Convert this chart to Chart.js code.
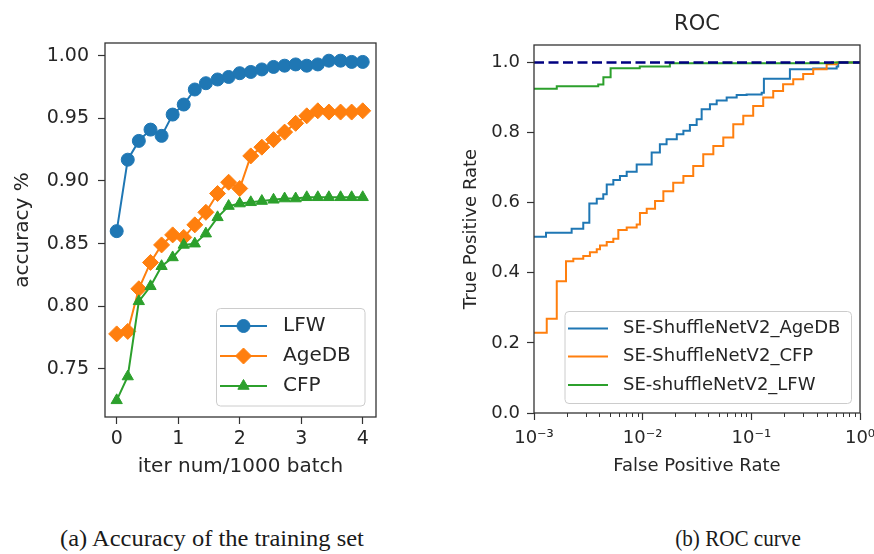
<!DOCTYPE html>
<html><head><meta charset="utf-8">
<script src="https://cdn.jsdelivr.net/npm/chart.js@4.4.0/dist/chart.umd.min.js"></script>
<style>
html,body{margin:0;padding:0;background:#fff;}
#wrap{position:relative;width:874px;height:554px;overflow:hidden;background:#fff;}
#c1{position:absolute;left:0;top:0;}
#c2{position:absolute;left:440px;top:0;}
.cap{position:absolute;top:526px;line-height:25px;font-family:"Liberation Serif","Times New Roman",serif;font-size:24px;color:#1a1a1a;white-space:nowrap;}
#capA{transform:translateX(-50%) scaleX(1.02);}
#capB{transform:translateX(-50%) scaleX(0.88);}
</style></head><body>
<div id="wrap">
<canvas id="c1" width="420" height="500"></canvas>
<canvas id="c2" width="434" height="500"></canvas>
<div class="cap" id="capA" style="left:212px">(a) Accuracy of the training set</div>
<div class="cap" id="capB" style="left:738px">(b) ROC curve</div>
</div>
<script>
// ---------- data: (a) accuracy of the training set ----------
const iterX = [0,0.18,0.36,0.55,0.73,0.91,1.09,1.27,1.45,1.64,1.82,2.0,2.18,2.36,2.55,2.73,2.91,3.09,3.27,3.45,3.64,3.82,4.0];
const lfwAcc = [0.860,0.917,0.932,0.941,0.936,0.953,0.961,0.973,0.978,0.981,0.983,0.986,0.987,0.989,0.991,0.992,0.993,0.992,0.993,0.996,0.996,0.995,0.995];
const agedbAcc = [0.778,0.780,0.814,0.835,0.849,0.857,0.855,0.865,0.875,0.890,0.899,0.894,0.920,0.927,0.933,0.939,0.946,0.952,0.956,0.955,0.955,0.955,0.956];
const cfpAcc = [0.725,0.744,0.804,0.816,0.832,0.839,0.849,0.850,0.858,0.871,0.880,0.882,0.883,0.884,0.885,0.886,0.886,0.887,0.887,0.887,0.887,0.887,0.887];
const accSeriesNames = ['LFW','AgeDB','CFP'];
const accXTicks = [0,1,2,3,4];
const accYTicks = [0.75,0.80,0.85,0.90,0.95,1.00];

// ---------- data: (b) ROC curve ----------
const ageFpr = [0.001,0.00129,0.00222,0.00284,0.00323,0.00378,0.00434,0.00467,0.00537,0.00618,0.00713,0.00881,0.0121,0.0144,0.0166,0.0206,0.0237,0.0272,0.0314,0.0349,0.0416,0.048,0.0593,0.0733,0.0905,0.1245,0.1305,0.2265,0.371,0.61,0.63,1.0];
const ageTpr = [0.503,0.514,0.526,0.543,0.598,0.611,0.624,0.652,0.665,0.676,0.688,0.709,0.743,0.767,0.781,0.795,0.805,0.822,0.838,0.867,0.881,0.892,0.900,0.907,0.909,0.914,0.954,0.981,0.983,0.989,1.0,1.0];
const cfpFpr = [0.001,0.00131,0.00162,0.00197,0.0023,0.00284,0.00327,0.00378,0.00405,0.00467,0.00537,0.00597,0.00713,0.00881,0.00944,0.0109,0.013,0.0155,0.0191,0.0237,0.0292,0.0361,0.0447,0.0552,0.0682,0.0843,0.104,0.1286,0.159,0.196,0.243,0.30,0.371,0.493,0.61,1.0];
const cfpTpr = [0.229,0.269,0.376,0.433,0.440,0.448,0.459,0.467,0.478,0.488,0.497,0.522,0.529,0.538,0.571,0.583,0.605,0.633,0.657,0.676,0.705,0.738,0.762,0.786,0.824,0.848,0.876,0.900,0.919,0.938,0.952,0.967,0.981,0.995,1.0,1.0];
const lfwFpr = [0.001,0.00162,0.0039,0.00435,0.00507,0.0094,0.0178,0.55,1.0];
const lfwTpr = [0.925,0.932,0.937,0.958,0.984,0.989,0.998,1.0,1.0];
const refFpr = [0.001,1.0];
const refTpr = [1.0,1.0];
const rocSeriesNames = ['SE-ShuffleNetV2_AgeDB','SE-ShuffleNetV2_CFP','SE-shuffleNetV2_LFW'];
const rocXMajor = [0.001,0.01,0.1,1];
const rocXTickLabels = ['10\u207B\u00B3','10\u207B\u00B2','10\u207B\u00B9','10\u2070'];
const rocYTicks = [0.0,0.2,0.4,0.6,0.8,1.0];

// ---------- styling ----------
const FONT = '"DejaVu Sans", sans-serif';
const TXT = '#262626';
const FRAME = '#333333';
const C_BLUE = '#1f77b4', C_ORANGE = '#ff7f0e', C_GREEN = '#2ca02c', C_NAVY = '#000080';

function zip(xs, ys){ return xs.map((x,i)=>({x:x, y:ys[i]})); }
function isDecade(v){ const l = Math.log10(v); return Math.abs(l - Math.round(l)) < 1e-6; }

function drawMarker(ctx, style, r, x, y, color){
  ctx.save();
  ctx.fillStyle = color; ctx.strokeStyle = color; ctx.lineWidth = 1;
  ctx.beginPath();
  if (style === 'circle') ctx.arc(x, y, r, 0, Math.PI*2);
  else if (style === 'rectRot') { ctx.moveTo(x-r,y); ctx.lineTo(x,y-r); ctx.lineTo(x+r,y); ctx.lineTo(x,y+r); ctx.closePath(); }
  else if (style === 'triangle') { const a = 2*Math.PI/3; ctx.moveTo(x, y-r); ctx.lineTo(x+Math.sin(a)*r, y-Math.cos(a)*r); ctx.lineTo(x+Math.sin(2*a)*r, y-Math.cos(2*a)*r); ctx.closePath(); }
  ctx.fill(); ctx.stroke();
  ctx.restore();
}

const mplDecor = {
  id: 'mplDecor',
  afterDraw(chart, args, opts){
    const ctx = chart.ctx, a = chart.chartArea;
    ctx.save();
    if (opts.minorTicks){
      const s = chart.scales.x;
      ctx.strokeStyle = FRAME; ctx.lineWidth = 1;
      s.ticks.forEach(t => {
        if (!isDecade(t.value)){
          const px = Math.round(s.getPixelForValue(t.value)) + 0.5;
          ctx.beginPath(); ctx.moveTo(px, a.bottom); ctx.lineTo(px, a.bottom + opts.minorTicks); ctx.stroke();
        }
      });
    }
    ctx.strokeStyle = FRAME; ctx.lineWidth = 1.3;
    ctx.strokeRect(a.left, a.top, a.right - a.left, a.bottom - a.top);
    const L = opts.legend;
    if (L){
      const rr = 4;
      ctx.beginPath();
      ctx.moveTo(L.x + rr, L.y);
      ctx.arcTo(L.x + L.w, L.y, L.x + L.w, L.y + L.h, rr);
      ctx.arcTo(L.x + L.w, L.y + L.h, L.x, L.y + L.h, rr);
      ctx.arcTo(L.x, L.y + L.h, L.x, L.y, rr);
      ctx.arcTo(L.x, L.y, L.x + L.w, L.y, rr);
      ctx.closePath();
      ctx.fillStyle = 'rgba(255,255,255,0.8)'; ctx.fill();
      ctx.strokeStyle = '#cccccc'; ctx.lineWidth = 1; ctx.stroke();
      const ds = chart.data.datasets.filter(d => d.label);
      ds.forEach((d, i) => {
        const y = L.rows[i];
        ctx.strokeStyle = d.borderColor; ctx.lineWidth = d.borderWidth;
        ctx.beginPath(); ctx.moveTo(L.x0, y); ctx.lineTo(L.x1, y); ctx.stroke();
        if (d.pointRadius > 0) drawMarker(ctx, d.pointStyle, d.pointRadius, (L.x0 + L.x1)/2, y, d.borderColor);
        ctx.fillStyle = TXT; ctx.font = L.font; ctx.textBaseline = 'middle'; ctx.textAlign = 'left';
        ctx.fillText(d.label, L.tx, y);
      });
    }
    ctx.restore();
  }
};

function fixWidth(w){ return s => { s.width = w; s.paddingTop = 0; s.paddingBottom = 0; s.paddingLeft = 0; s.paddingRight = 0; }; }
function fixHeight(h){ return s => { s.height = h; s.paddingTop = 0; s.paddingBottom = 0; s.paddingLeft = 0; s.paddingRight = 0; }; }

// ---------- chart (a) ----------
new Chart(document.getElementById('c1'), {
  type: 'line',
  data: {
    datasets: [
      { label: accSeriesNames[0], data: zip(iterX, lfwAcc), borderColor: C_BLUE, backgroundColor: C_BLUE, borderWidth: 2, pointStyle: 'circle', pointRadius: 6.5, pointBorderWidth: 1, order: 2 },
      { label: accSeriesNames[1], data: zip(iterX, agedbAcc), borderColor: C_ORANGE, backgroundColor: C_ORANGE, borderWidth: 2, pointStyle: 'rectRot', pointRadius: 8, pointBorderWidth: 1, order: 1 },
      { label: accSeriesNames[2], data: zip(iterX, cfpAcc), borderColor: C_GREEN, backgroundColor: C_GREEN, borderWidth: 2, pointStyle: 'triangle', pointRadius: 6.5, pointBorderWidth: 1, order: 0 }
    ]
  },
  options: {
    responsive: false, animation: false, devicePixelRatio: 1,
    layout: { padding: { left: 0, top: 43, right: 44, bottom: 0 } },
    plugins: {
      legend: { display: false }, tooltip: { enabled: false },
      mplDecor: { legend: { x: 216.5, y: 308.5, w: 148.5, h: 97.5, rows: [326, 356, 386], x0: 220, x1: 267, tx: 283, font: '20px ' + FONT } }
    },
    elements: { line: { tension: 0 } },
    scales: {
      x: {
        type: 'linear', min: -0.19, max: 4.216,
        afterBuildTicks: s => { s.ticks = accXTicks.map(v => ({ value: v })); },
        afterFit: fixHeight(83),
        grid: { drawOnChartArea: false, drawTicks: true, tickLength: 7, tickColor: FRAME, tickWidth: 1.2 },
        border: { display: false },
        ticks: { autoSkip: false, maxRotation: 0, padding: 4, color: TXT, font: { family: FONT, size: 19 }, callback: v => String(v) },
        title: { display: true, text: 'iter num/1000 batch', color: TXT, font: { family: FONT, size: 20 }, padding: { top: 0, bottom: 21 } }
      },
      y: {
        type: 'linear', min: 0.7117, max: 1.0101,
        afterBuildTicks: s => { s.ticks = accYTicks.map(v => ({ value: v })); },
        afterFit: fixWidth(105),
        grid: { drawOnChartArea: false, drawTicks: true, tickLength: 7, tickColor: FRAME, tickWidth: 1.2 },
        border: { display: false },
        ticks: { autoSkip: false, padding: 9, color: TXT, font: { family: FONT, size: 19 }, callback: v => v.toFixed(2) },
        title: { display: true, text: 'accuracy %', color: TXT, font: { family: FONT, size: 20 }, padding: { top: 11, bottom: 0 } }
      }
    }
  },
  plugins: [mplDecor]
});

// ---------- chart (b) ----------
new Chart(document.getElementById('c2'), {
  type: 'line',
  data: {
    datasets: [
      { label: rocSeriesNames[0], data: zip(ageFpr, ageTpr), borderColor: C_BLUE, borderWidth: 2, pointRadius: 0, stepped: true, order: 3 },
      { label: rocSeriesNames[1], data: zip(cfpFpr, cfpTpr), borderColor: C_ORANGE, borderWidth: 2, pointRadius: 0, stepped: true, order: 2 },
      { label: rocSeriesNames[2], data: zip(lfwFpr, lfwTpr), borderColor: C_GREEN, borderWidth: 2, pointRadius: 0, stepped: true, order: 1 },
      { label: '', data: zip(refFpr, refTpr), borderColor: C_NAVY, borderWidth: 2.7, borderDash: [10, 4.5], pointRadius: 0, order: 0 }
    ]
  },
  options: {
    responsive: false, animation: false, devicePixelRatio: 1,
    layout: { padding: { left: 0, top: 0, right: 14, bottom: 0 } },
    plugins: {
      legend: { display: false }, tooltip: { enabled: false },
      title: { display: true, text: 'ROC', fullSize: false, color: TXT, font: { family: FONT, size: 21, weight: 'normal' }, padding: { top: 12, bottom: 7.8 } },
      mplDecor: { minorTicks: 4, legend: { x: 125, y: 311.5, w: 286.5, h: 92, rows: [328.5, 356.5, 385], x0: 128, x1: 168, tx: 183, font: '18px ' + FONT } }
    },
    elements: { line: { tension: 0 } },
    scales: {
      x: {
        type: 'logarithmic', min: 0.001, max: 1,
        afterBuildTicks: s => {
          const t = [];
          rocXMajor.forEach((m, k) => {
            if (k < rocXMajor.length - 1) { for (let i = 1; i <= 9; i++) t.push({ value: i * m }); }
            else t.push({ value: m });
          });
          s.ticks = t;
        },
        afterFit: fixHeight(87),
        grid: { drawOnChartArea: false, drawTicks: true, tickLength: 7, tickWidth: 1.2, tickColor: c => (c.tick && isDecade(c.tick.value)) ? FRAME : 'rgba(0,0,0,0)' },
        border: { display: false },
        ticks: {
          autoSkip: false, maxRotation: 0, minRotation: 0, padding: 8, color: TXT, font: { family: FONT, size: 18 },
          callback: v => { const k = rocXMajor.findIndex(m => Math.abs(m - v) < m * 1e-6); return k >= 0 ? rocXTickLabels[k] : ''; }
        },
        title: { display: true, text: 'False Positive Rate', color: TXT, font: { family: FONT, size: 18 }, padding: { top: 0, bottom: 22.5 } }
      },
      y: {
        type: 'linear', min: 0, max: 1.05,
        afterBuildTicks: s => { s.ticks = rocYTicks.map(v => ({ value: v })); },
        afterFit: fixWidth(94),
        grid: { drawOnChartArea: false, drawTicks: true, tickLength: 7, tickColor: FRAME, tickWidth: 1.2 },
        border: { display: false },
        ticks: { autoSkip: false, padding: 7, color: TXT, font: { family: FONT, size: 18 }, callback: v => v.toFixed(1) },
        title: { display: true, text: 'True Positive Rate', color: TXT, font: { family: FONT, size: 18 }, padding: { top: 21, bottom: 0 } }
      }
    }
  },
  plugins: [mplDecor]
});
</script>
</body></html>
